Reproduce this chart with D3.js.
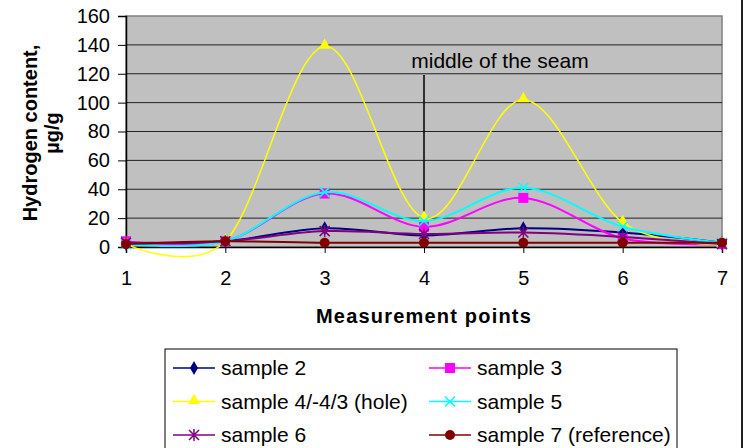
<html>
<head>
<style>
  body { margin: 0; background: #fff; }
  svg { font-family: "Liberation Sans", Arial, sans-serif; }
  .grid line { stroke: #222; stroke-width: 1; }
</style>
</head>
<body>
<svg id="chart" width="746" height="448"></svg>
<script src="https://d3js.org/d3.v7.min.js"></script>
<script>
// measurement points 1..7
let points = [1, 2, 3, 4, 5, 6, 7];
let yTicks = [0, 20, 40, 60, 80, 100, 120, 140, 160];

let sample2 = [2, 4, 13, 8, 13, 10, 3];
let sample3 = [4, 4, 37, 14, 34, 6, 2];
let sample4 = [2, 4, 139, 20, 102, 17, 2];
let sample5 = [2, 4, 38, 18, 41, 14, 3];
let sample6 = [3, 4, 11, 9, 10, 7, 2];
let sample7 = [2, 4, 3, 3, 3, 3, 3];

let series = [
  { name: "sample 2", values: sample2, color: "#000080", marker: "diamond" },
  { name: "sample 3", values: sample3, color: "#ff00ff", marker: "square" },
  { name: "sample 4/-4/3 (hole)", values: sample4, color: "#ffff00", marker: "triangle" },
  { name: "sample 5", values: sample5, color: "#00ffff", marker: "x" },
  { name: "sample 6", values: sample6, color: "#800080", marker: "star" },
  { name: "sample 7 (reference)", values: sample7, color: "#800000", marker: "circle" }
];

let margin = { left: 126, top: 16, right: 722, bottom: 247 };
let svg = d3.select("#chart");

let x = d3.scaleLinear().domain([1, 7]).range([margin.left, margin.right]);
let y = d3.scaleLinear().domain([0, 160]).range([margin.bottom, margin.top]);

// plot background
svg.append("rect")
  .attr("x", margin.left).attr("y", margin.top)
  .attr("width", margin.right - margin.left)
  .attr("height", margin.bottom - margin.top)
  .attr("fill", "#c0c0c0")
  .attr("stroke", "#808080").attr("stroke-width", 1.5);

// gridlines
svg.append("g").attr("class", "grid")
  .selectAll("line").data(yTicks.slice(1, -1)).enter().append("line")
  .attr("x1", margin.left).attr("x2", margin.right)
  .attr("y1", d => y(d)).attr("y2", d => y(d));

// y axis
let yAxis = svg.append("g")
  .attr("transform", "translate(" + margin.left + ",0)")
  .call(d3.axisLeft(y).tickValues(yTicks).tickSize(8).tickPadding(8));
yAxis.select(".domain").attr("stroke", "#000").attr("stroke-width", 1.5);
yAxis.selectAll("text").attr("font-size", 20).attr("fill", "#000")
  .attr("font-family", "Liberation Sans, Arial, sans-serif");

// x axis
let xAxis = svg.append("g")
  .attr("transform", "translate(0," + margin.bottom + ")")
  .call(d3.axisBottom(x).tickValues(points).tickFormat(d3.format("d")).tickSize(6).tickPadding(18));
xAxis.select(".domain").attr("stroke", "#000").attr("stroke-width", 1.5);
xAxis.selectAll("text").attr("font-size", 20).attr("fill", "#000")
  .attr("font-family", "Liberation Sans, Arial, sans-serif");

// axis titles
svg.append("text")
  .attr("x", 424).attr("y", 323)
  .attr("text-anchor", "middle")
  .attr("font-size", 20).attr("font-weight", "bold")
  .attr("letter-spacing", 1.2)
  .text("Measurement points");

let yt = svg.append("text")
  .attr("transform", "translate(37,133) rotate(-90)")
  .attr("text-anchor", "middle")
  .attr("font-size", 20).attr("font-weight", "bold");
yt.append("tspan").attr("x", 0).attr("y", 0).text("Hydrogen content,");
yt.append("tspan").attr("x", 0).attr("y", 22).text("\u00b5g/g");

// middle of the seam marker
svg.append("line")
  .attr("x1", x(4)).attr("x2", x(4))
  .attr("y1", 75).attr("y2", margin.bottom)
  .attr("stroke", "#000").attr("stroke-width", 1.5);
svg.append("text")
  .attr("x", 500).attr("y", 68)
  .attr("text-anchor", "middle")
  .attr("font-size", 21)
  .text("middle of the seam");

// lines
let line = d3.line()
  .x((d, i) => x(points[i]))
  .y(d => y(d))
  .curve(d3.curveCardinal.tension(0));

function drawMarker(g, type, color, cx, cy) {
  if (type === "diamond") {
    g.append("path").attr("d", d3.symbol(d3.symbolDiamond, 55)())
      .attr("transform", "translate(" + cx + "," + cy + ")").attr("fill", color);
  } else if (type === "square") {
    g.append("rect").attr("x", cx - 5).attr("y", cy - 5).attr("width", 10).attr("height", 10).attr("fill", color);
  } else if (type === "triangle") {
    g.append("path").attr("d", d3.symbol(d3.symbolTriangle, 60)())
      .attr("transform", "translate(" + cx + "," + (cy - 1) + ")").attr("fill", color);
  } else if (type === "x") {
    g.append("path").attr("d", "M-5,-5L5,5M-5,5L5,-5")
      .attr("transform", "translate(" + cx + "," + cy + ")")
      .attr("stroke", color).attr("stroke-width", 1.5).attr("fill", "none");
  } else if (type === "star") {
    g.append("path").attr("d", "M-5,-5L5,5M-5,5L5,-5M0,-6L0,6")
      .attr("transform", "translate(" + cx + "," + cy + ")")
      .attr("stroke", color).attr("stroke-width", 1.5).attr("fill", "none");
  } else if (type === "circle") {
    g.append("circle").attr("cx", cx).attr("cy", cy).attr("r", 5).attr("fill", color);
  }
}

series.forEach(function (s) {
  let g = svg.append("g");
  g.append("path")
    .datum(s.values)
    .attr("d", line)
    .attr("fill", "none")
    .attr("stroke", s.color)
    .attr("stroke-width", s.marker === "triangle" ? 1.5 : 2);
  s.values.forEach(function (v, i) {
    drawMarker(g, s.marker, s.color, x(points[i]), y(v));
  });
});

// legend
let legend = svg.append("g");
legend.append("rect")
  .attr("x", 165).attr("y", 349)
  .attr("width", 512).attr("height", 120)
  .attr("fill", "#fff").attr("stroke", "#000").attr("stroke-width", 1);

series.forEach(function (s, i) {
  let col = i % 2, row = Math.floor(i / 2);
  let lx = col === 0 ? 173 : 429;
  let ly = 368 + row * 33.5;
  let g = legend.append("g");
  g.append("line").attr("x1", lx).attr("x2", lx + 42)
    .attr("y1", ly).attr("y2", ly)
    .attr("stroke", s.color).attr("stroke-width", 1.5);
  drawMarker(g, s.marker, s.color, lx + 21, ly);
  g.append("text").attr("x", lx + 48).attr("y", ly + 7)
    .attr("font-size", 21).text(s.name);
});

// right frame edge
svg.append("line")
  .attr("x1", 742).attr("x2", 742).attr("y1", 0).attr("y2", 448)
  .attr("stroke", "#222").attr("stroke-width", 2);
</script>
</body>
</html>
